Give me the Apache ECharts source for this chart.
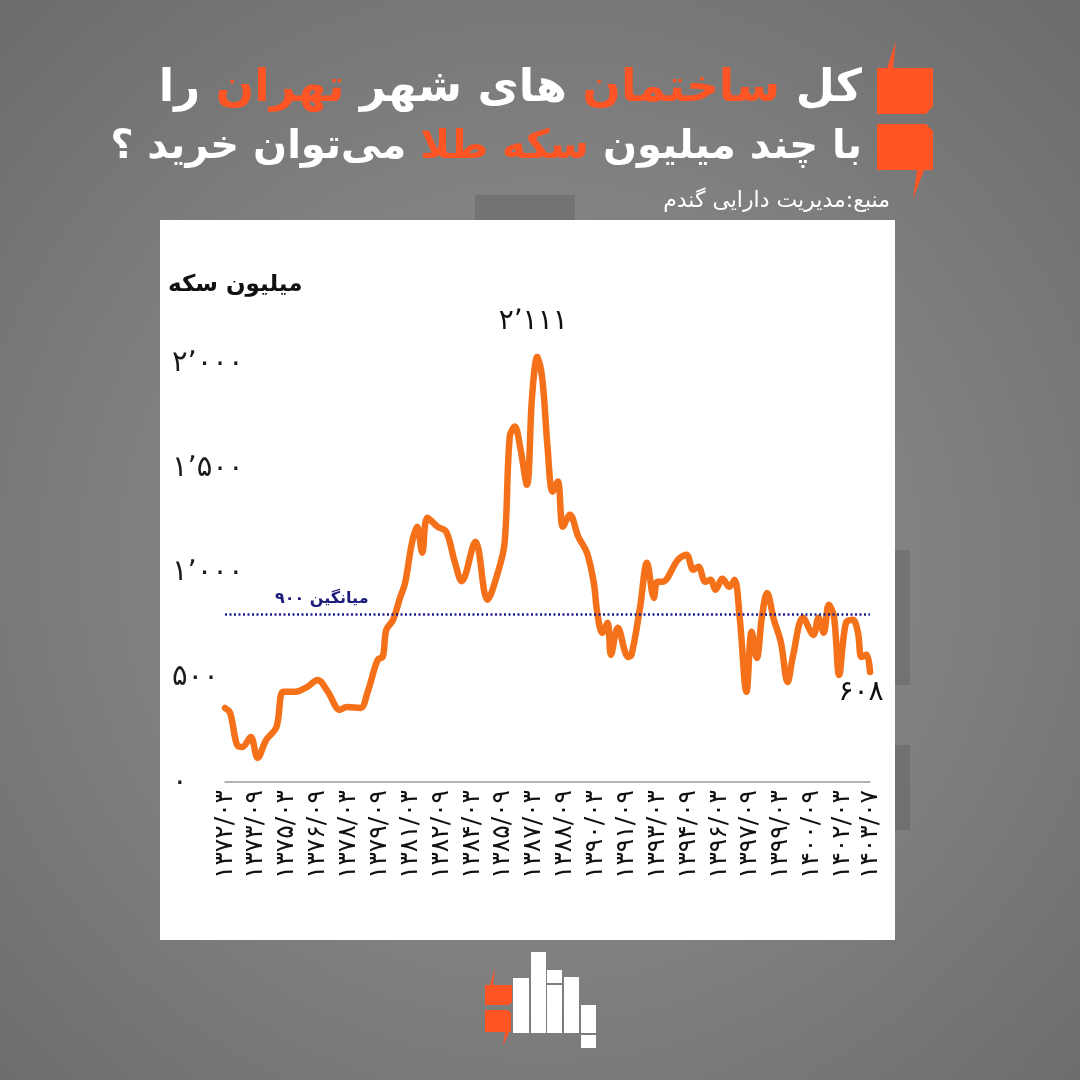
<!DOCTYPE html>
<html>
<head>
<meta charset="utf-8">
<script src="https://cdn.jsdelivr.net/npm/echarts@6/dist/echarts.min.js"></script>
<style>
html,body{margin:0;padding:0;width:1080px;height:1080px;overflow:hidden;}
#wrap{width:1080px;height:1080px;background:radial-gradient(ellipse 75% 75% at 50% 52%, #8e8e8e 0%, #828282 45%, #6a6a6a 100%);}
#chart{width:1080px;height:1080px;}
</style>
</head>
<body>
<div id="wrap"><div id="chart"></div></div>
<script>
// ---- data ----
const startYear = 1372, startMonth = 3, endYear = 1403, endMonth = 7;
const tickLabels = ['1372/03','1373/09','1375/03','1376/09','1378/03','1379/09','1381/03','1382/09','1384/03','1385/09','1387/03','1388/09','1390/03','1391/09','1393/03','1394/09','1396/03','1397/09','1399/03','1400/09','1402/03','1403/07'];
const dates = ['1372/03','1372/06','1372/10','1373/01','1373/06','1373/10','1374/03','1374/09','1375/01','1375/08','1376/03','1376/09','1377/03','1377/10','1378/02','1378/10','1379/02','1379/08','1379/11','1380/01','1380/05','1380/09','1380/12','1381/04','1381/07','1381/10','1382/01','1382/07','1382/12','1383/05','1383/09','1384/05','1384/12','1385/06','1385/10','1386/01','1386/04','1386/07','1386/11','1387/02','1387/05','1387/08','1387/11','1388/02','1388/05','1388/08','1388/12','1389/05','1389/10','1390/02','1390/04','1390/07','1390/10','1390/12','1391/04','1391/10','1391/12','1392/05','1392/09','1393/01','1393/03','1393/06','1394/03','1394/08','1394/12','1395/03','1395/07','1395/10','1396/01','1396/05','1396/09','1396/12','1397/03','1397/07','1397/10','1398/01','1398/04','1398/07','1398/11','1399/03','1399/07','1399/10','1400/04','1400/10','1401/01','1401/04','1401/07','1401/10','1402/01','1402/05','1402/09','1402/12','1403/02','1403/05','1403/07'];
const coins = [354,330,177,167,215,115,201,263,431,431,455,488,431,345,359,354,426,584,600,727,775,880,952,1144,1220,1096,1263,1220,1196,1050,960,1148,871,1000,1144,1651,1699,1603,1421,1842,2030,1924,1603,1388,1436,1220,1278,1172,1096,952,809,713,761,608,737,598,608,837,1048,880,957,957,1062,1086,1014,1029,957,967,919,971,933,967,790,431,718,593,790,904,775,670,478,598,785,703,785,713,847,790,512,761,775,713,598,608,526];
const averageLevel = 800;          // visual position of the dotted average line
const averageText = 'میانگین ۹۰۰';
const peakText = '۲٬۱۱۱';
const lastText = '۶۰۸';
const yTicks = [0, 500, 1000, 1500, 2000];

// ---- helpers ----
const faDigits = '۰۱۲۳۴۵۶۷۸۹';
const toFa = s => String(s).replace(/[0-9]/g, d => faDigits[+d]);
const months = [];
for (let y = startYear, m = startMonth; y < endYear || (y === endYear && m <= endMonth); ) {
  months.push(y + '/' + String(m).padStart(2, '0'));
  m++; if (m > 12) { m = 1; y++; }
}
const seriesData = dates.map((d, i) => [d, coins[i]]);
const FONT = 'DejaVu Sans';
const ORANGE = '#f4711a';
const RED = '#ff5424';

const chart = echarts.init(document.getElementById('chart'), null, {renderer: 'canvas'});
chart.setOption({
  backgroundColor: 'transparent',
  animation: false,
  grid: {left: 225, right: 210, top: 259, bottom: 298},
  xAxis: {
    type: 'category',
    data: months,
    boundaryGap: false,
    axisLine: {show: true, lineStyle: {color: '#9a9a9a', width: 1.5}},
    axisTick: {show: false},
    axisLabel: {
      interval: (idx, val) => tickLabels.includes(val),
      rotate: 90,
      margin: 8,
      fontFamily: FONT,
      fontSize: 25,
      color: '#111',
      formatter: v => toFa(v)
    },
    splitLine: {show: false}
  },
  yAxis: {
    type: 'value',
    min: 0, max: 2500, interval: 500,
    axisLine: {show: false},
    axisTick: {show: false},
    splitLine: {show: false},
    axisLabel: {
      align: 'left',
      margin: 53,
      fontFamily: FONT,
      fontSize: 29,
      color: '#1a1a1a',
      formatter: v => yTicks.includes(v) ? toFa(v.toLocaleString('en-US').replace(',', '٬')) : ''
    }
  },
  series: [{
    type: 'line',
    data: seriesData,
    smooth: 0.35,
    symbol: 'none',
    lineStyle: {color: ORANGE, width: 6.5, cap: 'round', join: 'round'},
    markLine: {
      silent: true,
      symbol: 'none',
      data: [{yAxis: averageLevel}],
      lineStyle: {color: '#1c1c8a', type: [2, 2.5], width: 2.5},
      label: {
        show: true,
        position: 'insideStartTop',
        formatter: averageText,
        fontFamily: FONT,
        fontWeight: 'bold',
        fontSize: 16,
        color: '#1c1c7a',
        padding: [0, 0, 0, 42],
        distance: 8
      }
    },
    markPoint: {
      silent: true,
      data: [
        {type: 'max', symbol: 'circle', symbolSize: 7, itemStyle: {color: ORANGE},
         label: {show: true, position: 'top', distance: 18, offset: [-4, 0], formatter: peakText,
                 fontFamily: FONT, fontSize: 28, color: '#111'}},
        {coord: [dates[dates.length - 1], coins[coins.length - 1]], symbol: 'circle', symbolSize: 1,
         itemStyle: {color: 'rgba(0,0,0,0)'},
         label: {show: true, position: 'bottom', distance: 6, offset: [-9, 0], formatter: lastText,
                 fontFamily: FONT, fontSize: 28, color: '#111'}}
      ]
    }
  }],
  graphic: [
    // faint background blocks
    {type: 'rect', z: -20, silent: true, shape: {x: 475, y: 195, width: 100, height: 26}, style: {fill: 'rgba(90,90,90,0.35)'}},
    {type: 'rect', z: -20, silent: true, shape: {x: 895, y: 550, width: 15, height: 135}, style: {fill: 'rgba(90,90,90,0.35)'}},
    {type: 'rect', z: -20, silent: true, shape: {x: 895, y: 745, width: 15, height: 85}, style: {fill: 'rgba(90,90,90,0.35)'}},
    // white panel
    {type: 'rect', z: -10, silent: true, shape: {x: 160, y: 220, width: 735, height: 720}, style: {fill: '#ffffff'}},
    // title lines (tokens in visual left-to-right order)
    {type: 'text', silent: true, x: 862, y: 89, style: {
      text: '{w|را }{o|تهران}{w| های شهر }{o|ساختمان}{w| کل}',
      align: 'right', verticalAlign: 'middle',
      rich: {
        w: {fontFamily: FONT, fontWeight: 'bold', fontSize: 45, fill: '#ffffff'},
        o: {fontFamily: FONT, fontWeight: 'bold', fontSize: 45, fill: RED}
      }
    }},
    {type: 'text', silent: true, x: 862, y: 148, style: {
      text: '{w|می‌توان خرید ؟ }{o|سکه طلا}{w| با چند میلیون}',
      align: 'right', verticalAlign: 'middle',
      rich: {
        w: {fontFamily: FONT, fontWeight: 'bold', fontSize: 40, fill: '#ffffff'},
        o: {fontFamily: FONT, fontWeight: 'bold', fontSize: 40, fill: RED}
      }
    }},
    {type: 'text', silent: true, x: 890, y: 201, style: {
      text: 'منبع:مدیریت دارایی گندم', align: 'right', verticalAlign: 'middle',
      fontFamily: FONT, fontSize: 22, fill: '#ffffff'
    }},
    // y axis name
    {type: 'text', silent: true, x: 168, y: 285, style: {
      text: 'میلیون سکه', align: 'left', verticalAlign: 'middle',
      fontFamily: FONT, fontWeight: 'bold', fontSize: 23, fill: '#111'
    }},
    // quote icon (top right)
    {type: 'polygon', silent: true, shape: {points: [[877,68],[887,68],[896,41],[893,68],[933,68],[933,106],[926,114],[877,114]]}, style: {fill: RED}},
    {type: 'polygon', silent: true, shape: {points: [[877,124],[926,124],[933,131],[933,170],[924,170],[913,199],[917,170],[877,170]]}, style: {fill: RED}},
    // bottom logo
    {type: 'polygon', silent: true, shape: {points: [[485,985],[490,985],[495,968],[493,985],[512,985],[512,1002],[509,1005],[485,1005]]}, style: {fill: RED}},
    {type: 'polygon', silent: true, shape: {points: [[485,1010],[508,1010],[511,1013],[511,1032],[509,1032],[503,1046],[505,1032],[485,1032]]}, style: {fill: RED}},
    {type: 'rect', silent: true, shape: {x: 513, y: 978, width: 16, height: 55}, style: {fill: '#fff'}},
    {type: 'rect', silent: true, shape: {x: 531, y: 952, width: 15, height: 81}, style: {fill: '#fff'}},
    {type: 'rect', silent: true, shape: {x: 547, y: 970, width: 15, height: 13}, style: {fill: '#fff'}},
    {type: 'rect', silent: true, shape: {x: 547, y: 985, width: 15, height: 48}, style: {fill: '#fff'}},
    {type: 'rect', silent: true, shape: {x: 564, y: 977, width: 15, height: 56}, style: {fill: '#fff'}},
    {type: 'rect', silent: true, shape: {x: 581, y: 1005, width: 15, height: 28}, style: {fill: '#fff'}},
    {type: 'rect', silent: true, shape: {x: 581, y: 1035, width: 15, height: 13}, style: {fill: '#fff'}}
  ]
});
</script>
</body>
</html>
